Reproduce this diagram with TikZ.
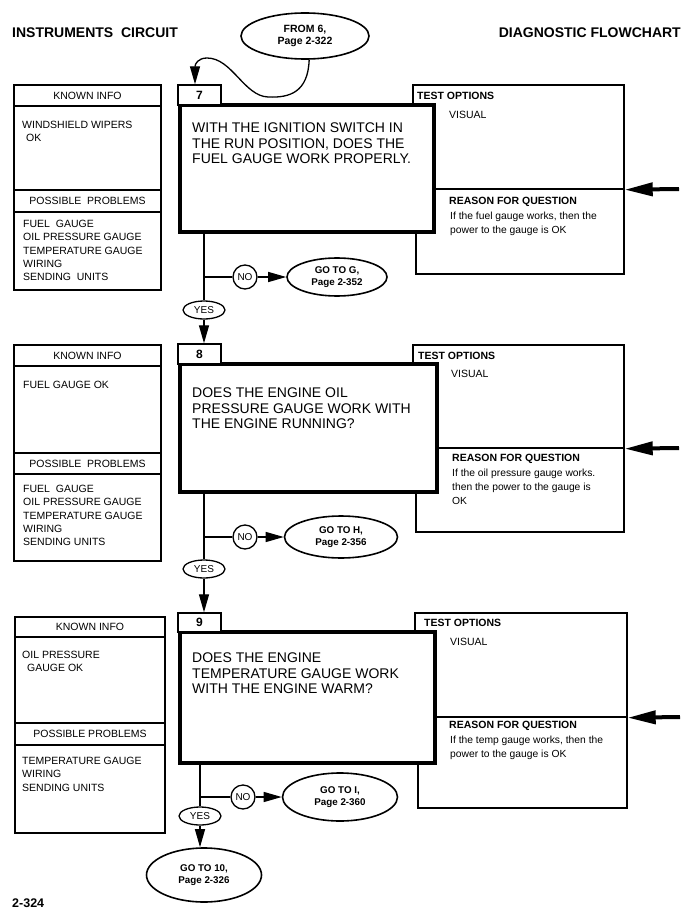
\documentclass[tikz,border=0pt]{standalone}
\usepackage{fontspec}
\setmainfont{Liberation Sans}
\usetikzlibrary{arrows.meta,shapes.geometric,calc}
\newcommand\myTitle{\bfseries\fontsize{14}{16}\selectfont}
\newcommand\myQ{\fontsize{14}{15.5}\selectfont}
\newcommand\myL{\fontsize{10.5}{13.2}\selectfont}
\newcommand\myHead{\bfseries\fontsize{10.5}{12}\selectfont}
\newcommand\myR{\fontsize{10.3}{14}\selectfont}
\newcommand\myEl{\bfseries\fontsize{9.8}{11.5}\selectfont}
\begin{document}
\begin{tikzpicture}[x=1pt,y=-1pt,
  thinline/.style={line width=1.3pt},
  boxline/.style={draw, line width=1.4pt, inner sep=0pt, fill=white},
  thickbox/.style={draw, line width=4.8pt, fill=white, inner sep=0pt},
  numbox/.style={draw, line width=1.4pt, inner sep=0pt, fill=white, minimum width=43pt, font=\bfseries\fontsize{12}{14}\selectfont},
  txt/.style={inner sep=0pt, anchor=west},
  mtxt/.style={inner sep=0pt, anchor=north west, align=left},
  lefttxt/.style={mtxt, font=\myL},
  headtxt/.style={inner sep=0pt, font=\myL},
  qtxt/.style={mtxt, font=\myQ},
  rtxt/.style={mtxt, font=\myR},
  bold/.style={txt, font=\myHead},
  oval/.style={ellipse, draw, line width=1.6pt, fill=white, inner sep=0pt, align=center, font=\myEl},
  yesoval/.style={ellipse, draw, line width=1.3pt, fill=white, inner sep=0pt, minimum width=42pt, minimum height=18pt, font=\fontsize{10}{11}\selectfont},
  nocircle/.style={circle, draw, line width=1.3pt, fill=white, inner sep=0pt, minimum size=24pt, font=\fontsize{10}{11}\selectfont},
  flowarrow/.style={line width=1.3pt, -{Triangle[length=18pt,width=10pt]}},
  bigarrow/.style={line width=4pt, -{Triangle[length=28pt,width=13pt]}}
]
\fill[white] (0,0) rectangle (694,915);
\path[use as bounding box] (0,0) rectangle (694,915);

% titles
\node[txt, font=\myTitle] (title) at (12,33) {INSTRUMENTS~ CIRCUIT};
\node[inner sep=0pt, anchor=east, font=\myTitle] (title2) at (681,33) {DIAGNOSTIC FLOWCHART};
\node[oval, minimum width=128pt, minimum height=46pt, font=\bfseries\fontsize{10.5}{12.5}\selectfont] (from) at (305,36) {FROM 6,\\Page 2-322};

% ================= BLOCK 7 =================
\node[boxline, minimum width=147pt, minimum height=205pt] (k7) at (87.5,187.5) {};
\draw[thinline] (k7.west |- 0,106) -- (k7.east |- 0,106);
\draw[thinline] (k7.west |- 0,190) -- (k7.east |- 0,190);
\draw[thinline] (k7.west |- 0,212) -- (k7.east |- 0,212);
\node[headtxt] (k7h) at (87.5,95.5) {KNOWN INFO};
\node[lefttxt] (k7t) at (22,121.2) {WINDSHIELD WIPERS\\\hspace*{4pt}OK};
\node[headtxt] (p7h) at (87.5,201) {POSSIBLE~ PROBLEMS};
\node[lefttxt] (p7t) at (23,220.2) {FUEL~ GAUGE\\OIL PRESSURE GAUGE\\TEMPERATURE GAUGE\\WIRING\\SENDING~ UNITS};

\node[boxline, minimum width=211pt, minimum height=104pt] (t7) at (518.5,137) {};
\node[boxline, minimum width=208pt, minimum height=85pt] (r7) at (520,231.5) {};
\node[thickbox, minimum width=254pt, minimum height=127pt] (q7) at (307,168.5) {};
\node[numbox, minimum height=20pt] (n7) at (199.5,95) {7};
\node[qtxt] (q7t) at (192,123) {WITH THE IGNITION SWITCH IN\\THE RUN POSITION, DOES THE\\FUEL GAUGE WORK PROPERLY.};
\node[bold] (t7h) at (417,96) {TEST OPTIONS};
\node[txt, font=\myL] (t7t) at (449,115) {VISUAL};
\node[bold] (r7h) at (449,202) {REASON FOR QUESTION};
\node[rtxt] (r7t) at (450,211.5) {If the fuel gauge works, then the\\power to the gauge is OK};
\coordinate (ar7) at (679,189);
\draw[bigarrow] (ar7) -- (t7.south east);

\draw[flowarrow] (from.-80) .. controls (308,92) and (290,98) .. (268,97)
   .. controls (244,96) and (232,58) .. (207,58)
   .. controls (198,58) and (195,64) .. ($(n7.north)+(-4.5,0)$);

\node[yesoval] (yes7) at (204,310) {YES};
\node[nocircle] (no7) at (245,277) {NO};
\node[oval, minimum width=100pt, minimum height=38pt] (goG) at (337,277) {GO TO G,\\Page 2-352};
\coordinate (fork7) at (yes7 |- no7);
\draw[thinline] (q7.south -| yes7) -- (yes7.north);
\draw[thinline] (fork7) -- (no7.west);
\draw[flowarrow] (no7.east) -- (goG.west);

% ================= BLOCK 8 =================
\node[boxline, minimum width=147pt, minimum height=216pt] (k8) at (87.5,453) {};
\draw[thinline] (k8.west |- 0,366) -- (k8.east |- 0,366);
\draw[thinline] (k8.west |- 0,453) -- (k8.east |- 0,453);
\draw[thinline] (k8.west |- 0,474) -- (k8.east |- 0,474);
\node[headtxt] (k8h) at (87.5,355.5) {KNOWN INFO};
\node[lefttxt] (k8t) at (23,381.2) {FUEL GAUGE OK};
\node[headtxt] (p8h) at (87.5,463.5) {POSSIBLE~ PROBLEMS};
\node[lefttxt] (p8t) at (23,485.2) {FUEL~ GAUGE\\OIL PRESSURE GAUGE\\TEMPERATURE GAUGE\\WIRING\\SENDING UNITS};

\node[boxline, minimum width=211pt, minimum height=103pt] (t8) at (518.5,396.5) {};
\node[boxline, minimum width=208pt, minimum height=84pt] (r8) at (520,490) {};
\node[thickbox, minimum width=257pt, minimum height=128pt] (q8) at (308.5,428) {};
\node[numbox, minimum height=20pt] (n8) at (199.5,354) {8};
\node[qtxt] (q8t) at (192,388) {DOES THE ENGINE OIL\\PRESSURE GAUGE WORK WITH\\THE ENGINE RUNNING?};
\node[bold] (t8h) at (418,356) {TEST OPTIONS};
\node[txt, font=\myL] (t8t) at (451,374) {VISUAL};
\node[bold] (r8h) at (452,459) {REASON FOR QUESTION};
\node[rtxt] (r8t) at (452,468.5) {If the oil pressure gauge works.\\then the power to the gauge is\\OK};
\coordinate (ar8) at (679,448);
\draw[bigarrow] (ar8) -- (t8.south east);

\draw[flowarrow] (yes7.south) -- (yes7 |- n8.north);

\node[yesoval] (yes8) at (204,569) {YES};
\node[nocircle] (no8) at (245,537) {NO};
\node[oval, minimum width=113pt, minimum height=42pt] (goH) at (341,537) {GO TO H,\\Page 2-356};
\coordinate (fork8) at (yes8 |- no8);
\draw[thinline] (q8.south -| yes8) -- (yes8.north);
\draw[thinline] (fork8) -- (no8.west);
\draw[flowarrow] (no8.east) -- (goH.west);

% ================= BLOCK 9 =================
\node[boxline, minimum width=150pt, minimum height=216pt] (k9) at (90,725) {};
\draw[thinline] (k9.west |- 0,637) -- (k9.east |- 0,637);
\draw[thinline] (k9.west |- 0,723) -- (k9.east |- 0,723);
\draw[thinline] (k9.west |- 0,745) -- (k9.east |- 0,745);
\node[headtxt] (k9h) at (90,627) {KNOWN INFO};
\node[lefttxt] (k9t) at (22,651.2) {OIL PRESSURE\\\hspace*{5pt}GAUGE OK};
\node[headtxt] (p9h) at (90,734) {POSSIBLE PROBLEMS};
\node[lefttxt] (p9t) at (22,757.2) {TEMPERATURE GAUGE\\WIRING\\SENDING UNITS};

\node[boxline, minimum width=212pt, minimum height=104pt] (t9) at (521,665) {};
\node[boxline, minimum width=209pt, minimum height=91pt] (r9) at (522.5,762.5) {};
\node[thickbox, minimum width=255pt, minimum height=131pt] (q9) at (307.5,697.5) {};
\node[numbox, minimum height=19pt] (n9) at (199.5,622.5) {9};
\node[qtxt] (q9t) at (192,653) {DOES THE ENGINE\\TEMPERATURE GAUGE WORK\\WITH THE ENGINE WARM?};
\node[bold] (t9h) at (424,623) {TEST OPTIONS};
\node[txt, font=\myL] (t9t) at (450,642) {VISUAL};
\node[bold] (r9h) at (449,726) {REASON FOR QUESTION};
\node[rtxt] (r9t) at (450,735.5) {If the temp gauge works, then the\\power to the gauge is OK};
\coordinate (ar9) at (680,717);
\draw[bigarrow] (ar9) -- (t9.south east);

\draw[flowarrow] (yes8.south) -- (yes8 |- n9.north);

\node[yesoval] (yes9) at (200,816) {YES};
\node[nocircle] (no9) at (243,797) {NO};
\node[oval, minimum width=115pt, minimum height=48pt] (goI) at (340,797) {GO TO I,\\Page 2-360};
\coordinate (fork9) at (yes9 |- no9);
\draw[thinline] (q9.south -| yes9) -- (yes9.north);
\draw[thinline] (fork9) -- (no9.west);
\draw[flowarrow] (no9.east) -- (goI.west);

\node[oval, minimum width=115pt, minimum height=54pt] (go10) at (204,875) {GO TO 10,\\Page 2-326};
\draw[flowarrow] (yes9.south) -- (yes9 |- go10.north);

\node[txt, font=\bfseries\fontsize{12.5}{14}\selectfont] (pg) at (12,903) {2-324};
\end{tikzpicture}
\end{document}
